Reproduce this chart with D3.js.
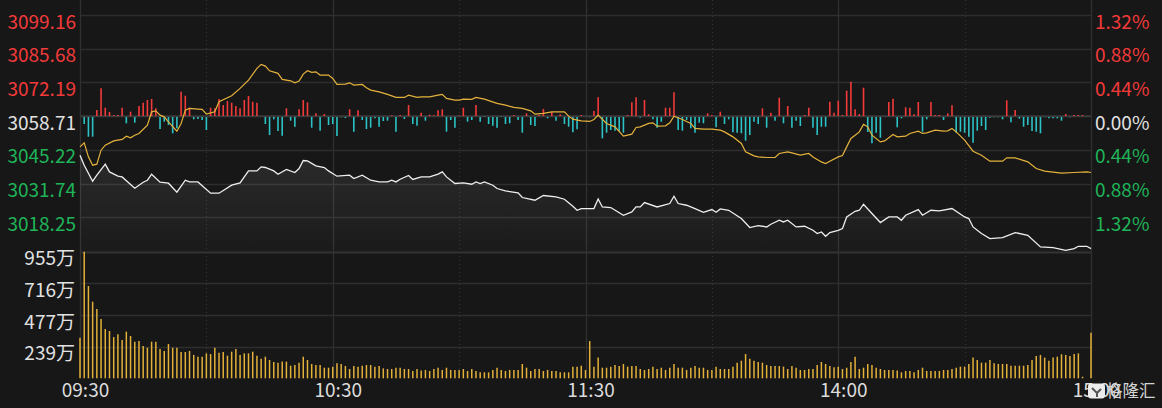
<!DOCTYPE html>
<html><head><meta charset="utf-8">
<script src="https://cdn.jsdelivr.net/npm/d3@7/dist/d3.min.js"></script>
<style>html,body{margin:0;padding:0;background:#171717;}svg{display:block;}</style>
</head><body>
<script>
// ---------- DATA ----------
const prevClose = 3058.71;
const priceTicks = [3099.16, 3085.68, 3072.19, 3058.71, 3045.22, 3031.74, 3018.25];
const pctTicks = ["1.32%", "0.88%", "0.44%", "0.00%", "0.44%", "0.88%", "1.32%"];
const volTicks = [955, 716, 477, 239];
const timeTicks = [["09:30", 0], ["10:30", 60], ["11:30", 120], ["14:00", 180], ["15:00", 240]];
const halfHourMarks = [30, 90, 150, 210];

// index line (white): [minute, price]
const indexLine = [[0,3043.09],[1,3039.09],[3,3032.68],[4,3035.09],[6,3039.49],[7,3036.41],[9,3034.69],[10,3034.41],[13,3029.88],[15,3032.28],[16,3033.08],[17,3035.49],[19,3032.28],[21,3031.88],[23,3028.28],[25,3033.08],[26,3032.40],[28,3032.40],[31,3027.88],[33,3027.88],[36,3031.08],[38,3032.00],[40,3036.81],[42,3036.81],[43,3038.41],[44,3038.17],[46,3036.81],[47,3035.49],[49,3037.37],[51,3036.17],[52,3037.77],[53,3040.97],[54,3040.81],[56,3038.81],[58,3038.17],[59,3036.81],[61,3034.69],[64,3035.09],[65,3033.77],[67,3035.09],[69,3033.08],[71,3032.40],[73,3032.40],[74,3033.08],[75,3032.40],[76,3033.48],[78,3034.97],[79,3033.37],[81,3034.41],[83,3034.41],[85,3035.49],[86,3036.41],[87,3034.41],[89,3031.76],[91,3032.00],[93,3031.48],[94,3032.40],[95,3031.76],[96,3032.40],[98,3031.08],[99,3029.76],[101,3028.80],[104,3028.00],[105,3026.16],[108,3025.08],[110,3026.96],[113,3026.40],[115,3025.48],[117,3022.67],[118,3021.07],[119,3021.75],[122,3021.75],[123,3025.60],[124,3022.39],[126,3022.15],[129,3019.07],[131,3020.39],[132,3022.39],[133,3022.39],[134,3024.16],[137,3022.39],[140,3023.76],[141,3026.68],[142,3023.76],[144,3023.07],[146,3021.75],[148,3020.27],[150,3021.35],[151,3020.27],[152,3021.59],[154,3021.07],[157,3017.75],[159,3014.15],[161,3014.95],[163,3014.39],[164,3015.47],[166,3017.07],[167,3016.39],[168,3017.07],[170,3014.39],[172,3014.67],[174,3013.06],[175,3011.74],[176,3012.38],[177,3010.66],[178,3012.14],[180,3013.06],[181,3013.75],[182,3018.39],[184,3020.67],[185,3021.07],[186,3023.47],[188,3019.75],[190,3016.15],[192,3018.39],[194,3018.39],[195,3017.07],[196,3019.07],[199,3021.35],[200,3019.07],[202,3021.07],[204,3020.79],[207,3021.75],[210,3018.39],[211,3017.75],[212,3014.39],[214,3011.74],[216,3009.74],[219,3010.14],[222,3012.14],[225,3011.06],[228,3006.38],[231,3006.14],[234,3005.06],[236,3005.74],[237,3006.66],[239,3006.66],[240,3005.74]];

// yellow line: [minute, price]
const yellowLine = [[0,3046.42],[1,3048.02],[2,3042.41],[3,3039.09],[4,3039.49],[5,3045.10],[6,3047.10],[8,3048.82],[10,3049.38],[11,3050.70],[12,3050.02],[13,3051.10],[14,3051.78],[16,3055.11],[17,3060.43],[18,3060.83],[19,3059.11],[20,3058.43],[21,3056.43],[23,3052.70],[24,3055.79],[25,3061.11],[26,3061.79],[28,3061.51],[29,3061.39],[30,3059.51],[32,3060.43],[33,3064.44],[36,3066.84],[38,3069.80],[40,3073.12],[42,3077.81],[43,3079.41],[44,3078.73],[45,3076.85],[47,3075.81],[48,3073.40],[50,3072.84],[51,3072.04],[52,3072.72],[53,3075.53],[54,3076.85],[55,3076.21],[56,3076.45],[57,3075.13],[59,3075.13],[60,3073.80],[61,3071.40],[63,3071.52],[64,3072.04],[65,3071.12],[67,3071.40],[68,3070.04],[69,3069.12],[71,3068.44],[73,3067.40],[75,3066.20],[77,3066.20],[78,3067.12],[80,3066.20],[81,3066.44],[83,3066.44],[85,3067.12],[86,3067.40],[87,3065.80],[89,3065.12],[90,3065.12],[91,3065.52],[93,3065.40],[94,3066.20],[96,3065.52],[99,3063.80],[101,3063.11],[103,3062.19],[105,3061.79],[107,3060.83],[108,3059.51],[110,3059.79],[112,3060.43],[115,3060.43],[116,3058.71],[117,3057.51],[119,3056.83],[121,3056.59],[122,3057.39],[123,3059.11],[125,3055.79],[127,3054.43],[129,3050.70],[131,3051.50],[132,3054.19],[133,3054.43],[135,3055.79],[136,3056.03],[137,3054.71],[139,3054.83],[140,3056.03],[141,3058.71],[143,3057.39],[145,3055.79],[146,3053.79],[148,3053.50],[150,3053.50],[152,3053.10],[153,3052.42],[155,3050.42],[157,3047.78],[158,3044.42],[160,3042.81],[161,3042.41],[163,3042.17],[165,3042.17],[166,3043.78],[168,3044.42],[169,3044.02],[171,3043.09],[173,3043.78],[174,3042.41],[176,3040.41],[177,3039.77],[178,3040.69],[180,3042.41],[181,3042.97],[182,3046.42],[183,3049.78],[184,3051.10],[185,3052.42],[186,3055.39],[187,3054.43],[188,3051.10],[190,3048.42],[191,3048.82],[193,3051.38],[194,3050.42],[196,3050.70],[197,3051.78],[199,3052.70],[200,3051.78],[201,3052.02],[203,3053.10],[205,3052.70],[206,3052.82],[207,3053.79],[208,3052.42],[210,3049.10],[212,3044.70],[214,3043.09],[216,3040.69],[219,3040.69],[220,3042.01],[222,3042.01],[225,3040.41],[227,3037.77],[229,3036.69],[233,3035.89],[236,3036.17],[239,3036.41],[240,3036.17]];

// red/green strength bars, one per minute (positive = red, negative = green)
const flowBars = [0,-8,-20.7,-20.7,6,27.7,8.3,4,1,1,8.3,-7.3,4.3,-6.7,10,13.3,16,17,7.7,-13,-5.7,-9,-17.3,-12.3,24.3,20.3,8.3,-3.3,-3,-4,-14,8.3,7.7,17,11,15,13.3,10,7.7,16,20,14.3,13.3,0,-8,-19,-3.3,-15,-19.7,7.7,-4.7,-10.7,6.7,16,13.7,-11.7,2.7,-14.7,2,-9,-8,-20,-1.3,-2,6.7,-15.7,5.7,-4,-13,-11.7,-2.3,-10.7,-5,-4.7,0.7,-15.7,1,-3,11,-8,-9.7,3.3,-4.7,1.3,0.7,5.7,6.7,-15.7,-4,-11.7,0.5,8.3,-5.7,-4,11,-5.7,-0.7,-8,-9.7,-11.7,-0.7,-8,-7.3,1,-4,-16.7,2.7,-9,-10,1,7,-2.3,4.3,-4.7,1.7,-8,-10.7,-16.3,-13.3,1,0,-1.3,5,18.7,-22.3,-16.7,-14,-14.7,-15,-16.7,1,13.7,18.7,-1.7,16,1.7,-3.3,-11.7,-5.7,8.3,8.3,23.7,-14,-14.7,-4,-12.3,-16.7,-6.7,-7.3,2.7,1,-11.3,4.3,-8,-3.3,-16.3,-16.7,-17.3,-24.7,-19,-5.7,-8,7.7,-11.7,3.3,-4.7,18.3,-7.3,10,-11.7,-4.7,-10,1,8.3,-11.7,-19,-10.7,-10.7,14.3,3.3,15.3,1,25.3,34.3,6.7,2,28.3,-16,-27.3,-16.7,-21.7,0,14,17.3,-11.3,-2.3,8.7,8.3,1.7,14,-15.7,-3.3,14,1,1,-4,2.7,10.7,-16.7,-15.7,-16.7,-20.7,-26.7,-14.7,-10,-14,-1.7,-1.3,-1.3,-3.3,15.7,-6.3,6,-2.7,-10.7,-9,-15,-15.7,-17.3,-1.3,-2.3,-2.3,-2.3,-4.7,2,-1.3,1,1,1,0,0];

// volume per minute, in 万
const volumes = [306,955,696,578,523,447,372,357,311,332,289,352,319,276,281,244,231,276,276,221,206,259,231,231,198,198,206,176,163,163,188,183,231,193,198,171,201,221,176,188,188,201,171,148,163,138,123,118,126,126,95,100,118,163,138,108,100,100,80,80,88,113,108,93,70,93,88,95,100,100,88,93,75,70,70,80,80,70,70,55,70,58,63,55,70,80,63,80,63,63,63,70,55,70,55,45,45,45,63,80,63,55,63,63,63,108,80,55,70,70,55,63,55,55,45,45,45,88,88,95,63,281,88,156,80,80,88,100,93,108,88,93,93,70,63,70,88,70,80,63,80,108,80,80,63,80,93,80,80,63,63,88,70,70,70,88,118,133,183,148,133,123,118,100,93,93,93,88,70,93,80,63,63,70,70,100,123,108,93,83,88,70,80,123,163,70,80,108,100,80,70,63,63,63,58,45,55,55,45,63,80,55,55,55,55,63,63,70,80,88,88,108,156,138,118,118,138,113,108,108,108,95,95,95,95,100,138,168,176,156,133,156,163,181,176,168,183,188,12,0,344];

// ---------- DRAW ----------
const W = 1162, H = 408;
const FONT = "'Noto Sans CJK SC','Noto Sans',sans-serif";
const FS = 19;
const C = {bg:"#171717", grid:"#2e2e2e", zero:"#3b3b3b", red:"#f23a3a", green:"#1fb457", cyan:"#2cc3c6",
           white:"#eeeeee", yellow:"#e4b23c", vol:"#e3b03a", text:"#e2e2e2"};

const svg = d3.select("body").append("svg").attr("width", W).attr("height", H);
svg.append("rect").attr("width", W).attr("height", H).attr("fill", C.bg);

const x = d3.scaleLinear().domain([0, 240]).range([80, 1091]);
const y = d3.scaleLinear().domain([3018.25, 3099.16]).range([217.3, 15]);
const yV = d3.scaleLinear().domain([0, 955]).range([378.3, 251.7]);
const yF = d3.scaleLinear().domain([-40, 40]).range([156, 76]);

const defs = svg.append("defs");
const grad = defs.append("linearGradient").attr("id", "fillGrad")
  .attr("gradientUnits", "userSpaceOnUse").attr("x1", 0).attr("x2", 0).attr("y1", 150).attr("y2", 252);
grad.append("stop").attr("offset", "0").attr("stop-color", "#ffffff").attr("stop-opacity", 0.09);
grad.append("stop").attr("offset", "1").attr("stop-color", "#ffffff").attr("stop-opacity", 0.015);

const g = svg.append("g");
const px = v => Math.round(v) + 0.5;

// horizontal grid in price panel
priceTicks.forEach(p => {
  if (p === prevClose) return;
  g.append("line").attr("x1", 80).attr("x2", 1091).attr("y1", px(y(p))).attr("y2", px(y(p)))
    .attr("stroke", C.grid).attr("stroke-width", 1.3);
});
// volume grid
volTicks.forEach((v, i) => {
  g.append("line").attr("x1", 80).attr("x2", 1091).attr("y1", px(yV(v))).attr("y2", px(yV(v)))
    .attr("stroke", i === 0 ? "#333333" : C.grid).attr("stroke-width", i === 0 ? 2.2 : 1.3);
});
// vertical grid
timeTicks.forEach(([, m]) => {
  g.append("line").attr("x1", px(x(m))).attr("x2", px(x(m))).attr("y1", 0).attr("y2", 378)
    .attr("stroke", "#303030").attr("stroke-width", 1.3);
});
halfHourMarks.forEach(m => {
  g.append("line").attr("x1", px(x(m))).attr("x2", px(x(m))).attr("y1", 0).attr("y2", 378)
    .attr("stroke", "#353535").attr("stroke-width", 1).attr("stroke-dasharray", "1,3");
});

// area under index line
const area = d3.area().x(d => x(d[0])).y0(yV(955)).y1(d => y(d[1]));
g.append("path").datum(indexLine).attr("d", area).attr("fill", "url(#fillGrad)");

// zero line
g.append("line").attr("x1", 80).attr("x2", 1091).attr("y1", y(prevClose)).attr("y2", y(prevClose))
  .attr("stroke", C.zero).attr("stroke-width", 2);

// red / green bars
g.append("g").selectAll("line").data(flowBars.map((v, i) => [i, v]).filter(d => d[1] !== 0))
  .join("line")
  .attr("x1", d => x(d[0])).attr("x2", d => x(d[0]))
  .attr("y1", d => d[1] > 0 ? yF(0) : yF(0) + 1)
  .attr("y2", d => yF(d[1]))
  .attr("stroke", d => d[1] > 0 ? C.red : C.cyan).attr("stroke-width", 1.6);

// volume bars
g.append("g").selectAll("line").data(volumes.map((v, i) => [i, v]).filter(d => d[1] > 0))
  .join("line")
  .attr("x1", d => x(d[0])).attr("x2", d => x(d[0]))
  .attr("y1", yV(0)).attr("y2", d => yV(d[1]))
  .attr("stroke", C.vol).attr("stroke-width", 1.5);

// lines
const line = d3.line().x(d => x(d[0])).y(d => y(d[1]));
g.append("path").datum(yellowLine).attr("d", line).attr("fill", "none")
  .attr("stroke", C.yellow).attr("stroke-width", 1.2);
g.append("path").datum(indexLine).attr("d", line).attr("fill", "none")
  .attr("stroke", C.white).attr("stroke-width", 1.3);

// left price labels
const colorFor = p => p > prevClose ? C.red : (p < prevClose ? C.green : C.text);
priceTicks.forEach(p => {
  svg.append("text").attr("x", 76).attr("y", y(p) + 13.6).attr("text-anchor", "end")
    .attr("font-family", FONT).attr("font-size", FS).attr("fill", colorFor(p)).text(p.toFixed(2));
});
// right percent labels
pctTicks.forEach((t, i) => {
  const p = priceTicks[i];
  svg.append("text").attr("x", 1095).attr("y", y(p) + 13.6).attr("text-anchor", "start")
    .attr("font-family", FONT).attr("font-size", FS).attr("fill", colorFor(p)).text(t);
});
// volume labels
volTicks.forEach(v => {
  svg.append("text").attr("x", 75).attr("y", yV(v) + 13.6).attr("text-anchor", "end")
    .attr("font-family", FONT).attr("font-size", FS).attr("fill", C.text).text(v + "万");
});
// time labels
timeTicks.forEach(([t, m]) => {
  svg.append("text").attr("x", x(m) + 5.5).attr("y", 397).attr("text-anchor", "middle")
    .attr("font-family", FONT).attr("font-size", FS).attr("fill", "#dcdcdc").text(t);
});

// watermark logo (overlaps the last time label, as in the original)
const logo = svg.append("g");
logo.append("rect").attr("x", 1088).attr("y", 383.5).attr("width", 17).attr("height", 15).attr("rx", 3)
  .attr("fill", "#ececec");
logo.append("path").attr("d", "M1092 388 L1097 393 L1101 389 M1097 393 L1097 397")
  .attr("stroke", "#555").attr("stroke-width", 2).attr("fill", "none");
logo.append("text").attr("x", 1106).attr("y", 397).attr("font-family", FONT).attr("font-size", 16.5)
  .attr("fill", "#d4d4d4").text("格隆汇");
</script>
</body></html>
